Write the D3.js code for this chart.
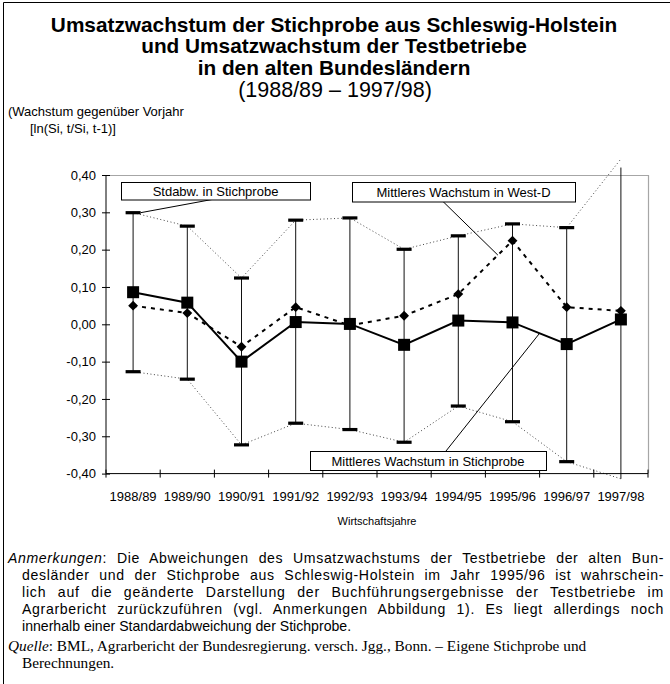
<!DOCTYPE html>
<html>
<head>
<meta charset="utf-8">
<script src="https://cdn.jsdelivr.net/npm/d3@7"></script>
<style>
  body { margin: 0; background: #fff; }
  svg { display: block; }
  text { fill: #000; }
</style>
</head>
<body>
<div id="chart"></div>
<script>
'use strict';

// Wirtschaftsjahre
const years = ['1988/89', '1989/90', '1990/91', '1991/92', '1992/93',
  '1993/94', '1994/95', '1995/96', '1996/97', '1997/98'];
// Mittleres Wachstum in Stichprobe (Schleswig-Holstein)
const meanSample = [0.086, 0.058, -0.100, 0.006, 0.001, -0.055, 0.010, 0.005, -0.053, 0.013];
// Mittleres Wachstum in West-D (Testbetriebe)
const meanWest = [0.050, 0.030, -0.060, 0.046, -0.003, 0.023, 0.081, 0.224, 0.046, 0.036];
// Mittelwert +/- Standardabweichung der Stichprobe
const sdUpper = [0.299, 0.263, 0.124, 0.279, 0.285, 0.201, 0.237, 0.269, 0.259, 0.443];
const sdLower = [-0.127, -0.147, -0.323, -0.265, -0.282, -0.316, -0.219, -0.261, -0.368, -0.414];
const yTicks = [0.4, 0.3, 0.2, 0.1, 0, -0.1, -0.2, -0.3, -0.4];

const titleLines = [
  'Umsatzwachstum der Stichprobe aus Schleswig-Holstein',
  'und Umsatzwachstum der Testbetriebe',
  'in den alten Bundesländern',
];
const subTitle = '(1988/89 – 1997/98)';
const notes = [
  'Die Abweichungen des Umsatzwachstums der Testbetriebe der alten Bun-',
  'desländer und der Stichprobe aus Schleswig-Holstein im Jahr 1995/96 ist wahrschein-',
  'lich auf die geänderte Darstellung der Buchführungsergebnisse der Testbetriebe im',
  'Agrarbericht zurückzuführen (vgl. Anmerkungen Abbildung 1). Es liegt allerdings noch',
  'innerhalb einer Standardabweichung der Stichprobe.',
];
const source = [
  ': BML, Agrarbericht der Bundesregierung. versch. Jgg., Bonn. – Eigene Stichprobe und',
  'Berechnungen.',
];

const W = 670, H = 684;
const plot = { left: 106, right: 648, top: 175, bottom: 473.6 };
const sans = 'Arial, "Liberation Sans", sans-serif';
const serif = '"Times New Roman", "Liberation Serif", serif';

const svg = d3.select('#chart').append('svg')
  .attr('width', W).attr('height', H)
  .attr('viewBox', '0 0 ' + W + ' ' + H);

// outer frame (left + top only)
svg.append('path')
  .attr('d', 'M3.5,' + H + 'V2.5H' + W)
  .attr('fill', 'none').attr('stroke', '#000').attr('stroke-width', 1);

// titles
svg.append('g').selectAll('text').data(titleLines).enter().append('text')
  .attr('x', 334).attr('y', (d, i) => 32 + i * 21.3)
  .attr('text-anchor', 'middle')
  .style('font', 'bold 20.8px ' + sans)
  .text((d) => d);
svg.append('text')
  .attr('x', 335).attr('y', 97)
  .attr('text-anchor', 'middle')
  .style('font', '21.5px ' + sans)
  .text(subTitle);

svg.append('text').attr('x', 8).attr('y', 116)
  .style('font', '13px ' + sans).text('(Wachstum gegenüber Vorjahr');
svg.append('text').attr('x', 30).attr('y', 133)
  .style('font', '13px ' + sans).text('[ln(Si, t/Si, t-1)]');

// scales
const x = d3.scaleBand().domain(years).range([plot.left, plot.right]);
const cx = (d) => x(d) + x.bandwidth() / 2;
const y = d3.scaleLinear().domain([-0.4, 0.4]).range([plot.bottom, plot.top]);
const clampV = (v) => Math.max(-0.42, Math.min(0.42, v));
const inside = (v) => v >= -0.4 && v <= 0.4;

const fmt = (d) => d.toFixed(2).replace('.', ',');

// plot frame (grey top / right)
svg.append('path')
  .attr('d', 'M' + plot.left + ',' + (plot.top + 0.5) + 'H' + (plot.right + 0.5) + 'V' + plot.bottom)
  .attr('fill', 'none').attr('stroke', '#a6a6a6').attr('stroke-width', 1.2);

const rows = years.map((yr, i) => ({
  yr, ms: meanSample[i], mw: meanWest[i], hi: sdUpper[i], lo: sdLower[i],
}));

// dotted SD envelopes
const dotted = (key) => d3.line().x((d) => cx(d.yr)).y((d) => y(d[key]));
['hi', 'lo'].forEach((k) => {
  svg.append('path').datum(rows)
    .attr('d', dotted(k))
    .attr('fill', 'none').attr('stroke', '#444')
    .attr('stroke-width', 1).attr('stroke-dasharray', '1,2.5');
});

// error bars
svg.append('g').selectAll('line').data(rows).enter().append('line')
  .attr('x1', (d) => cx(d.yr)).attr('x2', (d) => cx(d.yr))
  .attr('y1', (d) => y(clampV(d.hi))).attr('y2', (d) => y(clampV(d.lo)))
  .attr('stroke', '#111').attr('stroke-width', 1);

const caps = [];
rows.forEach((d) => {
  if (inside(d.hi)) caps.push({ yr: d.yr, v: d.hi });
  if (inside(d.lo)) caps.push({ yr: d.yr, v: d.lo });
});
svg.append('g').selectAll('rect').data(caps).enter().append('rect')
  .attr('x', (d) => cx(d.yr) - 7.5).attr('y', (d) => y(d.v) - 1.6)
  .attr('width', 15).attr('height', 3.2).attr('fill', '#000');

// West-D mean: dashed with diamonds
svg.append('path').datum(rows)
  .attr('d', d3.line().x((d) => cx(d.yr)).y((d) => y(d.mw)))
  .attr('fill', 'none').attr('stroke', '#000')
  .attr('stroke-width', 2).attr('stroke-dasharray', '4,5');
svg.append('g').selectAll('path').data(rows).enter().append('path')
  .attr('d', d3.symbol(d3.symbolDiamond2, 62))
  .attr('transform', (d) => 'translate(' + cx(d.yr) + ',' + y(d.mw) + ')')
  .attr('fill', '#000');

// sample mean: solid with squares
svg.append('path').datum(rows)
  .attr('d', d3.line().x((d) => cx(d.yr)).y((d) => y(d.ms)))
  .attr('fill', 'none').attr('stroke', '#000').attr('stroke-width', 2);
svg.append('g').selectAll('rect').data(rows).enter().append('rect')
  .attr('x', (d) => cx(d.yr) - 6).attr('y', (d) => y(d.ms) - 6)
  .attr('width', 12).attr('height', 12).attr('fill', '#000');

// axes
const yAxis = svg.append('g')
  .attr('transform', 'translate(' + plot.left + ',0)')
  .call(d3.axisLeft(y).tickValues(yTicks).tickFormat(fmt).tickSize(4).tickPadding(6));
yAxis.selectAll('.tick line').attr('x2', -4).attr('x1', 4);
yAxis.select('.domain').attr('d', 'M0,' + plot.top + 'V' + plot.bottom);
yAxis.selectAll('text').style('font', '13px ' + sans).attr('fill', '#000');

const xAxis = svg.append('g').attr('transform', 'translate(0,' + plot.bottom + ')');
xAxis.append('line')
  .attr('x1', plot.left).attr('x2', plot.right)
  .attr('stroke', '#000');
const bounds = years.map((d) => x(d)).concat([plot.right]);
xAxis.selectAll('.xt').data(bounds).enter().append('line')
  .attr('class', 'xt')
  .attr('x1', (d) => d).attr('x2', (d) => d)
  .attr('y1', -4).attr('y2', 4).attr('stroke', '#000');
xAxis.selectAll('text').data(years).enter().append('text')
  .attr('x', cx).attr('y', 27)
  .attr('text-anchor', 'middle')
  .style('font', '13px ' + sans)
  .text((d) => d);

svg.append('text')
  .attr('x', (plot.left + plot.right) / 2).attr('y', 525)
  .attr('text-anchor', 'middle')
  .style('font', '11px ' + sans)
  .text('Wirtschaftsjahre');

// label boxes with leader lines
const iW = years.indexOf('1994/95');
const iS = years.indexOf('1995/96');
const lerp = (a, b, t) => a + (b - a) * t;
const labels = [
  { text: 'Stdabw. in Stichprobe', x0: 121, x1: 310, y0: 182, y1: 199.5,
    from: [212, 199.5], to: [cx(years[0]) + 7.5, y(sdUpper[0])] },
  { text: 'Mittleres Wachstum in West-D', x0: 352, x1: 575, y0: 182, y1: 201.5,
    from: [443, 201.5],
    to: [lerp(cx(years[iW]), cx(years[iW + 1]), 0.73), lerp(y(meanWest[iW]), y(meanWest[iW + 1]), 0.73)] },
  { text: 'Mittleres Wachstum in Stichprobe', x0: 310, x1: 546, y0: 451, y1: 470,
    from: [446, 451],
    to: [lerp(cx(years[iS]), cx(years[iS + 1]), 0.5), lerp(y(meanSample[iS]), y(meanSample[iS + 1]), 0.5)] },
];
const lg = svg.append('g').selectAll('g').data(labels).enter().append('g');
lg.append('line')
  .attr('x1', (d) => d.from[0]).attr('y1', (d) => d.from[1])
  .attr('x2', (d) => d.to[0]).attr('y2', (d) => d.to[1])
  .attr('stroke', '#000').attr('stroke-width', 1);
lg.append('rect')
  .attr('x', (d) => d.x0 + 0.5).attr('y', (d) => d.y0 + 0.5)
  .attr('width', (d) => d.x1 - d.x0).attr('height', (d) => d.y1 - d.y0)
  .attr('fill', '#fff').attr('stroke', '#000').attr('stroke-width', 1);
lg.append('text')
  .attr('x', (d) => (d.x0 + d.x1) / 2).attr('y', (d) => (d.y0 + d.y1) / 2 + 5)
  .attr('text-anchor', 'middle')
  .style('font', '13px ' + sans)
  .text((d) => d.text);

// notes, justified line by line (half letter-spacing, half word-spacing)
const noteRight = 664;
const noteG = svg.append('g').style('font', '14.1px ' + sans);
noteG.selectAll('text').data(notes).enter().append('text')
  .attr('x', (d, i) => (i === 0 ? 8 : 22))
  .attr('y', (d, i) => 563 + i * 17)
  .each(function(d, i) {
    const t = d3.select(this);
    if (i === 0) {
      t.append('tspan').style('font-style', 'italic').text('Anmerkungen');
      t.append('tspan').text(': ' + d);
    } else {
      t.text(d);
    }
    if (i < notes.length - 1) {
      const startX = i === 0 ? 8 : 22;
      const str = t.text();
      const spaces = (str.match(/ /g) || []).length;
      const extra = (noteRight - startX) - this.getComputedTextLength();
      const ls = (extra * 0.5) / (str.length - 1);
      t.attr('letter-spacing', ls);
      const extra2 = (noteRight - startX) - this.getComputedTextLength();
      t.attr('word-spacing', extra2 / spaces);
    }
  });

const srcG = svg.append('g').style('font', '15.3px ' + serif);
srcG.selectAll('text').data(source).enter().append('text')
  .attr('x', (d, i) => (i === 0 ? 8 : 22))
  .attr('y', (d, i) => 651 + i * 17)
  .each(function(d, i) {
    const t = d3.select(this);
    if (i === 0) {
      t.append('tspan').style('font-style', 'italic').text('Quelle');
      t.append('tspan').text(d);
    } else {
      t.text(d);
    }
  });
</script>
</body>
</html>
